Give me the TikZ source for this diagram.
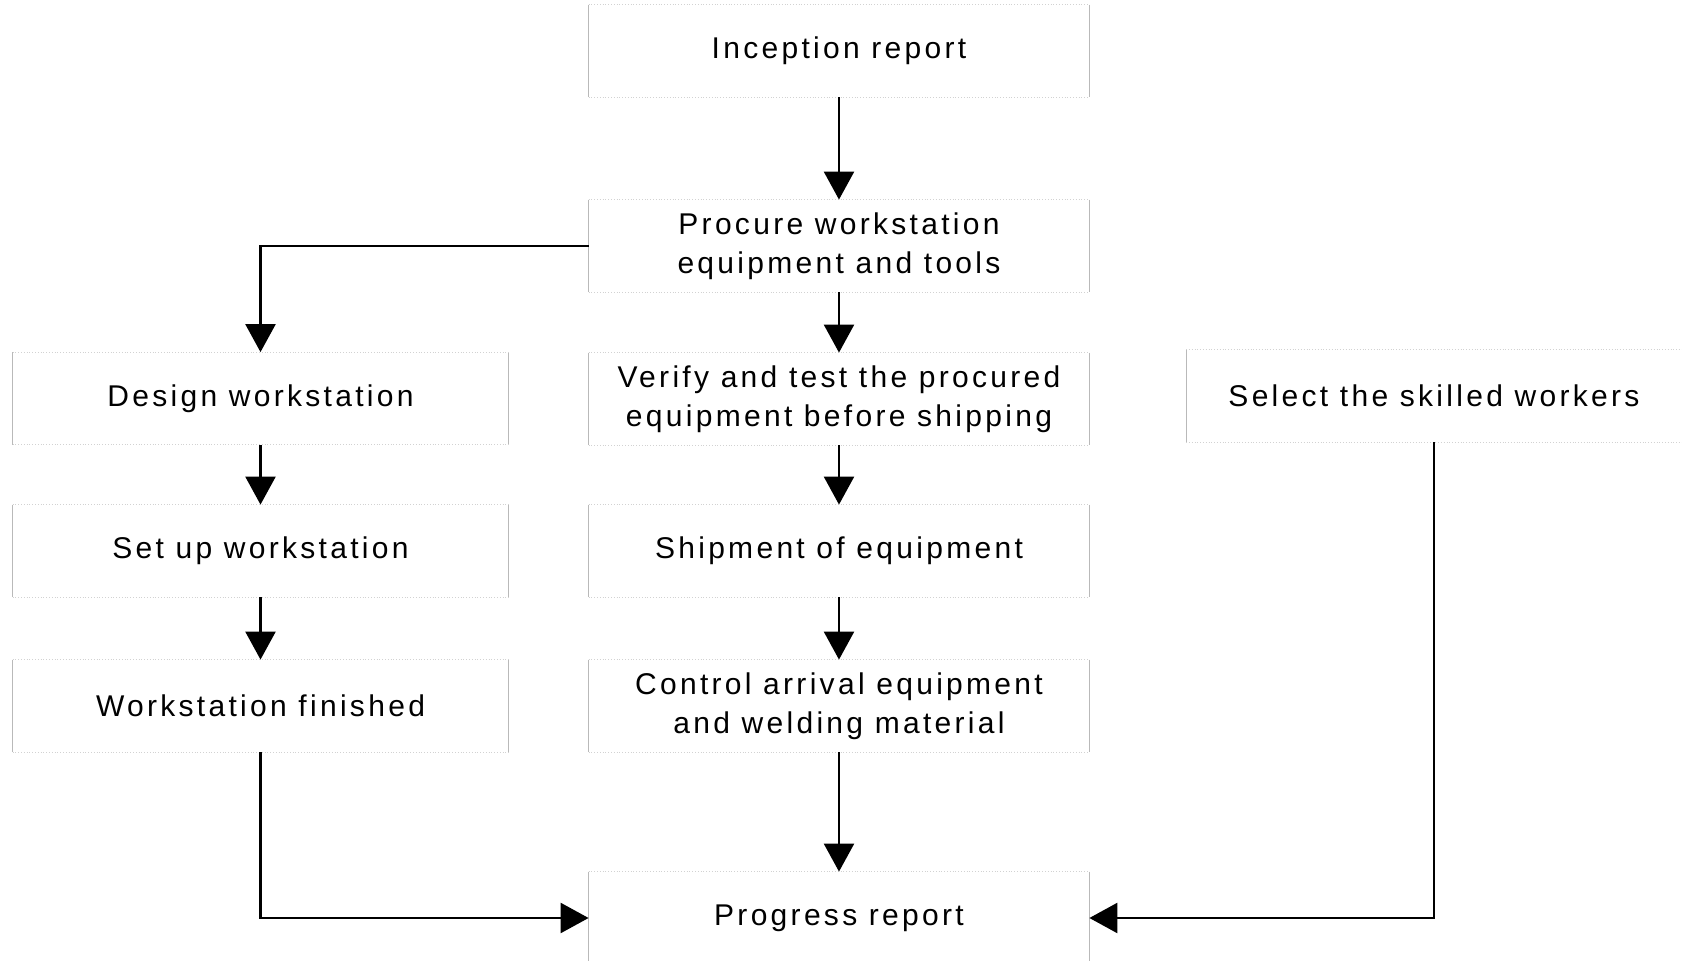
\documentclass[tikz,border=0pt]{standalone}
\usepackage{fontspec}
\setmainfont{Liberation Sans}[LetterSpace=11]
\usetikzlibrary{arrows.meta}

\tikzset{
  stage/.style={minimum height=46pt,align=center,inner sep=0pt,
    font=\fontsize{15}{19.3}\selectfont},
  midbox/.style={stage,minimum width=250pt},
  sidebox/.style={stage,minimum width=247.5pt},
  flow/.style={line width=1.2pt,-{Triangle[length=14pt,width=15pt]}},
  edge/.style={gray!55,line width=0.4pt},
  rim/.style={gray!35,line width=0.4pt,densely dotted}
}

\begin{document}
\begin{tikzpicture}[x=0.5pt,y=-0.5pt]
  \useasboundingbox (0,0) rectangle (1682,961);

  \node[midbox] (incep) at (839,51) {Inception report};
  \node[midbox] (procure) at (839,246) {Procure workstation\\equipment and tools};
  \node[midbox] (verify) at (839,399) {Verify and test the procured\\equipment before shipping};
  \node[midbox] (ship) at (839,551) {Shipment of equipment};
  \node[midbox] (control) at (839,706) {Control arrival equipment\\and welding material};
  \node[midbox] (progress) at (839,918) {Progress report};

  \node[sidebox] (design) at (260.5,398.5) {Design workstation};
  \node[sidebox] (setup) at (260.5,551) {Set up workstation};
  \node[sidebox] (finished) at (260.5,706) {Workstation finished};

  \node[sidebox] (select) at (1434,396) {Select the skilled workers};

  \foreach \n in {incep,procure,verify,ship,control,progress,design,setup,finished,select} {
    \draw[edge] (\n.north west) -- (\n.south west) (\n.north east) -- (\n.south east);
    \draw[rim] (\n.north west) -- (\n.north east) (\n.south west) -- (\n.south east);
  }

  \draw[flow] (incep) -- (procure);
  \draw[flow] (procure) -- (verify);
  \draw[flow] (verify) -- (ship);
  \draw[flow] (ship) -- (control);
  \draw[flow] (control) -- (progress);

  \draw[flow] (procure.west) -| (design.north);
  \draw[flow] (design) -- (setup);
  \draw[flow] (setup) -- (finished);
  \draw[flow] (finished.south) |- (progress.west);

  \draw[flow] (select.south) |- (progress.east);
\end{tikzpicture}
\end{document}
